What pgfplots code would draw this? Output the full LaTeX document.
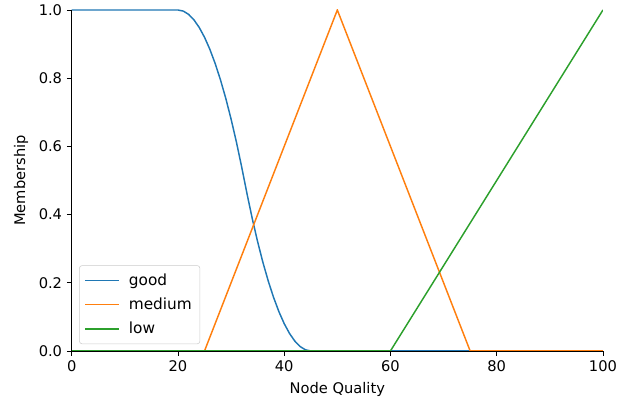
\documentclass[border=0pt]{standalone}
\usepackage{pgfplots}
\pgfplotsset{compat=1.18}
\usepackage{fontspec}
\setmainfont{DejaVu Sans}
\definecolor{tabblue}{HTML}{1F77B4}
\definecolor{taborange}{HTML}{FF7F0E}
\definecolor{tabgreen}{HTML}{2CA02C}
\begin{document}
\begin{tikzpicture}
\begin{axis}[
    scale only axis,
    width=398.5pt, height=255.75pt,
    xmin=0, xmax=100, ymin=0, ymax=1,
    axis on top,
    axis x line*=bottom, axis y line*=left,
    axis line style={line width=0.6pt, -},
    xtick={0,20,40,60,80,100},
    ytick={0,0.2,0.4,0.6,0.8,1.0},
    yticklabel style={/pgf/number format/.cd, fixed, fixed zerofill, precision=1},
    /pgf/number format/assume math mode=true,
    tick align=outside,
    major tick length=3.7pt,
    tick style={line width=0.6pt, black},
    ticklabel style={font=\fontsize{11}{13}\selectfont},
    xlabel={Node Quality}, ylabel={Membership},
    label style={font=\fontsize{11}{13}\selectfont},
    xlabel style={yshift=-1pt},
    ylabel style={yshift=1pt},
    legend style={at={(0.014,0.02)}, anchor=south west, draw=black!20, rounded corners=2pt,
        fill=white, fill opacity=0.8, text opacity=1,
        font=\fontsize{11.5}{13}\selectfont, row sep=4pt, inner xsep=4pt, inner ysep=4pt,
        /tikz/every odd column/.append style={column sep=5pt}},
    legend cell align=left,
    legend image code/.code={\draw[#1] (0pt,0pt) -- (25pt,0pt);},
    every axis plot/.append style={line width=1.1pt},
]
\addplot[tabblue] coordinates {
(0,1) (20,1) (21,0.9968) (22,0.9872) (23,0.9712) (24,0.9488) (25,0.92)
(26,0.8848) (27,0.8432) (28,0.7952) (29,0.7408) (30,0.68) (31,0.6128)
(32,0.5392) (32.5,0.5) (33,0.4608) (34,0.3872) (35,0.32) (36,0.2592)
(37,0.2048) (38,0.1568) (39,0.1152) (40,0.08) (41,0.0512) (42,0.0288)
(43,0.0128) (44,0.0032) (45,0) (100,0)};
\addlegendentry{good}
\addplot[taborange] coordinates {(0,0) (25,0) (50,1) (75,0) (100,0)};
\addlegendentry{medium}
\addplot[tabgreen] coordinates {(0,0) (60,0) (100,1)};
\addlegendentry{low}
\end{axis}
\path ([shift={(-53.8pt,-43.5pt)}]current axis.south west) rectangle ([shift={(20.3pt,6pt)}]current axis.north east);
\end{tikzpicture}
\end{document}
